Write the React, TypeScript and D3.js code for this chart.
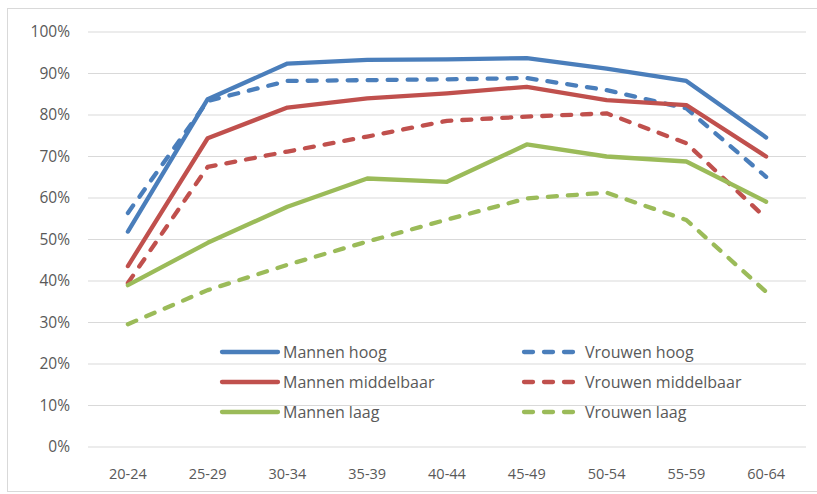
import React from "react";
import * as d3 from "d3";

const categories = ["20-24", "25-29", "30-34", "35-39", "40-44", "45-49", "50-54", "55-59", "60-64"];
const yTicks = [0, 10, 20, 30, 40, 50, 60, 70, 80, 90, 100];

const mannenHoog = [51.9, 83.8, 92.4, 93.3, 93.4, 93.7, 91.2, 88.2, 74.6];
const vrouwenHoog = [56.4, 83.4, 88.2, 88.4, 88.6, 88.9, 86.0, 81.6, 65.1];
const mannenMiddelbaar = [43.6, 74.4, 81.8, 84.0, 85.2, 86.8, 83.6, 82.4, 70.0];
const vrouwenMiddelbaar = [39.5, 67.5, 71.2, 74.8, 78.6, 79.6, 80.4, 73.2, 55.1];
const mannenLaag = [39.0, 49.2, 57.9, 64.7, 63.9, 72.9, 70.0, 68.8, 59.1];
const vrouwenLaag = [29.6, 37.8, 43.9, 49.5, 54.8, 59.9, 61.3, 54.7, 37.4];

const seriesNames = ["Mannen hoog", "Vrouwen hoog", "Mannen middelbaar", "Vrouwen middelbaar", "Mannen laag", "Vrouwen laag"];
const seriesValues = [mannenHoog, vrouwenHoog, mannenMiddelbaar, vrouwenMiddelbaar, mannenLaag, vrouwenLaag];
const seriesColors = ["#4A7EBB", "#4A7EBB", "#C0504D", "#C0504D", "#9BBB59", "#9BBB59"];
const seriesDashed = [false, true, false, true, false, true];

const W = 817;
const H = 494;
const FONT = "'Open Sans', 'Noto Sans', sans-serif";

export default function App() {
  const x = d3.scalePoint<string>().domain(categories).range([88, 806]).padding(0.5);
  const y = d3.scaleLinear().domain([0, 100]).range([447, 32]);
  const line = d3
    .line<number>()
    .x((_, i) => x(categories[i]) as number)
    .y((d) => y(d));

  const legendRows = [352, 382, 412];
  const legendCols = [220, 522];

  return (
    <svg width={W} height={H} style={{ position: "absolute", left: 0, top: 0, background: "#fff" }}>
      <rect x={7.5} y={8.5} width={820} height={483} fill="#fff" stroke="#d9d9d9" strokeWidth={1} />
      {yTicks.map((t) => (
        <g key={t}>
          <line x1={88} x2={806} y1={y(t)} y2={y(t)} stroke="#d9d9d9" strokeWidth={1} />
          <text x={70} y={y(t)} dy="0.35em" textAnchor="end" fontFamily={FONT} fontSize={15.5} fill="#595959">
            {t}%
          </text>
        </g>
      ))}
      {categories.map((c) => (
        <text key={c} x={x(c)} y={474} dy="0.35em" textAnchor="middle" fontFamily={FONT} fontSize={14.5} fill="#595959">
          {c}
        </text>
      ))}
      {seriesValues.map((vals, i) => (
        <path
          key={seriesNames[i]}
          d={line(vals) || ""}
          fill="none"
          stroke={seriesColors[i]}
          strokeWidth={4.3}
          strokeLinecap="round"
          strokeLinejoin="round"
          strokeDasharray={seriesDashed[i] ? "9 11" : undefined}
        />
      ))}
      {seriesNames.map((name, i) => {
        const col = i % 2;
        const row = Math.floor(i / 2);
        const lx = legendCols[col];
        const ly = legendRows[row];
        return (
          <g key={name}>
            <line
              x1={lx + 2}
              x2={lx + 58}
              y1={ly}
              y2={ly}
              stroke={seriesColors[i]}
              strokeWidth={4.3}
              strokeLinecap="round"
              strokeDasharray={seriesDashed[i] ? "9 11" : undefined}
            />
            <text x={lx + 63} y={ly} dy="0.35em" fontFamily={FONT} fontSize={16} fill="#595959">
              {name}
            </text>
          </g>
        );
      })}
    </svg>
  );
}
